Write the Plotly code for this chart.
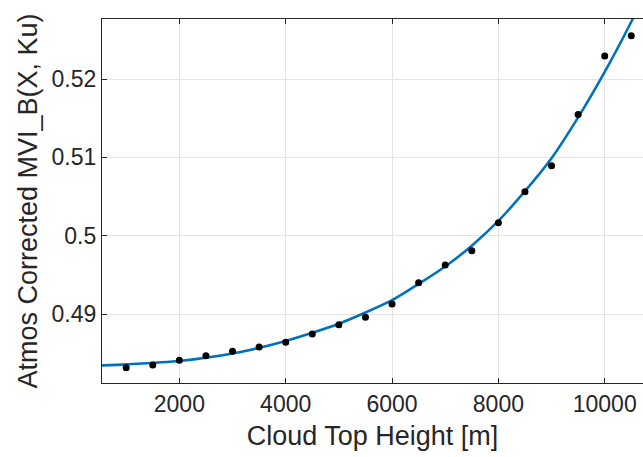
import plotly.graph_objects as go

# Measured data points
height_m = [1000, 1500, 2000, 2500, 3000, 3500, 4000, 4500, 5000, 5500,
            6000, 6500, 7000, 7500, 8000, 8500, 9000, 9500, 10000, 10500]
mvi_b = [0.48319, 0.48353, 0.48413, 0.48472, 0.48528, 0.48583, 0.48643, 0.48749, 0.48867, 0.48962,
         0.49131, 0.49403, 0.49629, 0.49811, 0.50166, 0.50561, 0.50893, 0.51548, 0.52293, 0.52552]

# Fitted curve
fit_x = [540, 1000, 2000, 3000, 4000, 5000, 6000, 7000, 7500, 8000, 8500, 9000, 9500, 10000, 10500, 10800]
fit_y = [0.48348, 0.48362, 0.48405, 0.48500, 0.48660, 0.48880, 0.49180, 0.49610, 0.49875, 0.50190,
         0.50570, 0.50990, 0.51510, 0.52090, 0.52730, 0.53150]

x_ticks = [2000, 4000, 6000, 8000, 10000]
x_tick_text = ["2000", "4000", "6000", "8000", "10000"]
y_ticks = [0.49, 0.50, 0.51, 0.52]
y_tick_text = ["0.49", "0.5", "0.51", "0.52"]

fig = go.Figure()
fig.add_trace(go.Scatter(x=fit_x, y=fit_y, mode="lines",
                         line=dict(color="#0072BD", width=2.6, shape="spline", smoothing=0.6),
                         hoverinfo="skip", showlegend=False))
fig.add_trace(go.Scatter(x=height_m, y=mvi_b, mode="markers",
                         marker=dict(color="black", size=7), showlegend=False))

axis_font = dict(family="Liberation Sans, Arial, sans-serif", size=23, color="#262626")
title_font = dict(family="Liberation Sans, Arial, sans-serif", size=27, color="#262626")

fig.update_layout(
    width=643, height=457,
    margin=dict(l=102, r=0, t=19, b=74),
    plot_bgcolor="white", paper_bgcolor="white",
    xaxis=dict(range=[545, 10720], tickvals=x_ticks, ticktext=x_tick_text,
               showgrid=True, gridcolor="#e3e3e3", gridwidth=1,
               showline=True, linecolor="#262626", linewidth=1.3, mirror="ticks",
               ticks="inside", ticklen=5, tickcolor="#262626", tickwidth=1,
               tickfont=axis_font, zeroline=False,
               title=dict(text="Cloud Top Height [m]", font=title_font, standoff=10)),
    yaxis=dict(range=[0.48124, 0.52765], tickvals=y_ticks, ticktext=y_tick_text,
               showgrid=True, gridcolor="#e3e3e3", gridwidth=1,
               showline=True, linecolor="#262626", linewidth=1.3, mirror=False,
               ticks="inside", ticklen=5, tickcolor="#262626", tickwidth=1,
               tickfont=axis_font, zeroline=False,
               title=dict(text="Atmos Corrected MVI_B(X, Ku)", font=title_font, standoff=6)),
)

fig.write_html("out.html")
